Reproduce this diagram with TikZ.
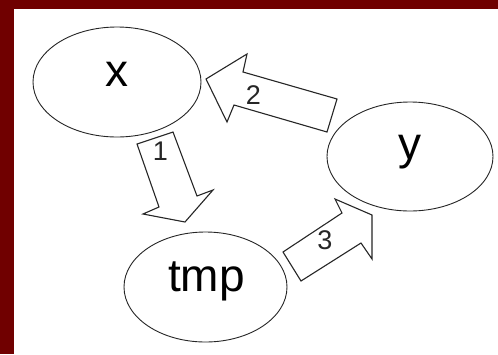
\documentclass[tikz,border=0pt]{standalone}
\usepackage{fontspec}
\setmainfont{Liberation Sans}
\usetikzlibrary{shapes.geometric}
\definecolor{framered}{RGB}{112,0,0}
\tikzset{
  oval/.style={ellipse, draw=black!85, line width=0.9pt, inner sep=0pt},
  big/.style={font=\fontsize{46}{50}\selectfont},
  num/.style={font=\fontsize{27}{30}\selectfont, text=black!85},
  block/.style={draw=black!85, line width=1.1pt, line join=miter, fill=white}
}
\begin{document}
\begin{tikzpicture}[x=1pt, y=-1pt, line join=round, line cap=round]
\useasboundingbox (0,0) rectangle (498,354);
\fill[framered] (0,0) rectangle (498,354);
\fill[white] (14,9) rectangle (498,354);
\node[oval, minimum width=168pt, minimum height=110pt] (x) at (117,82) {};
\node[oval, minimum width=166pt, minimum height=109pt] (y) at (410,156.5) {};
\node[oval, minimum width=163pt, minimum height=110pt] (tmp) at (205.5,287) {};
\node[big] (xt) at (117,74.5) {x};
\node[big] (yt) at (410,152.5) {y};
\node[big] (tmpt) at (206.5,281) {tmp};
\draw[block] (137,144)--(173,132)--(197,196)--(213,190)--(185,222)
  --(143,214)--(159,207)--cycle;
\draw[block] (206,79)--(247,54)--(243,72)--(337,99)--(327,132)
  --(234,105)--(227,122)--cycle;
\draw[block] (283,252)--(342,213)--(335,199)--(372,215)--(372,259)
  --(361,243)--(301,281)--cycle;
\node[num] (n1) at (160.5,151.5) {1};
\node[num] (n2) at (253.5,95) {2};
\node[num] (n3) at (325,240) {3};
\end{tikzpicture}
\end{document}
